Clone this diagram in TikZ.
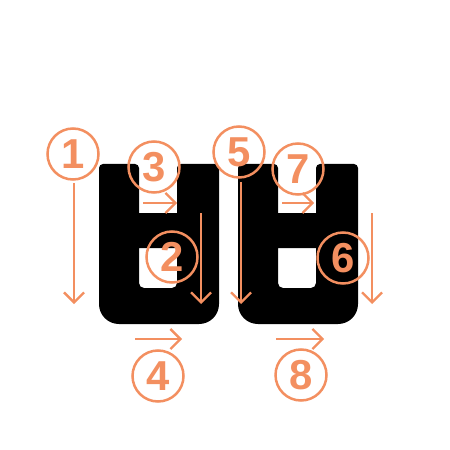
\documentclass[tikz,border=0pt]{standalone}
\usepackage{fontspec}
\setmainfont{Liberation Sans}
\usepackage{xcolor}
\usetikzlibrary{arrows.meta}
\definecolor{strokeorange}{RGB}{243,143,96}

\tikzset{
  num/.style={circle,draw=strokeorange,line width=2.5bp,minimum size=51bp,inner sep=0pt,
    text=strokeorange,font=\fontsize{42}{42}\selectfont\bfseries},
  order/.style={draw=strokeorange,line width=2.3bp,-{Straight Barb[length=10bp,width=20bp,line width=2.3bp]}}
}

\begin{document}
\begin{tikzpicture}[x=1bp,y=-1bp]
\useasboundingbox (0,0) rectangle (450,450);
% the two glyphs
\foreach \gx in {0,139} {
\begin{scope}[shift={(\gx,0)}]
\fill[even odd rule]
  (99,250) [rounded corners=4] -- (99,164) -- (139,164) [sharp corners] -- (139,213) -- (177,213)
  [rounded corners=4] -- (177,164) -- (219,164) [rounded corners=20] -- (219,324) -- (99,324)
  [sharp corners] -- cycle
  (139,248) -- (177,248) [rounded corners=5] -- (177,288) -- (139,288) [sharp corners] -- (139,268)
  -- cycle;
\end{scope}
}
% stroke numbers
\node[num] (n1) at (73,154) {1};
\node[num] (n2) at (172,257) {2};
\node[num] (n3) at (154,167) {3};
\node[num] (n4) at (158,376) {4};
\node[num] (n5) at (239,152) {5};
\node[num] (n6) at (343,258) {6};
\node[num] (n7) at (298,169) {7};
\node[num] (n8) at (301,375) {8};
% stroke directions
\coordinate (s1) at (74,183);  \coordinate (e1) at (74,304);
\coordinate (s2) at (201,213); \coordinate (e2) at (201,304);
\coordinate (s3) at (143,203); \coordinate (e3) at (177,203);
\coordinate (s4) at (135,339); \coordinate (e4) at (182,339);
\coordinate (s5) at (241,182); \coordinate (e5) at (241,304);
\coordinate (s6) at (372,213); \coordinate (e6) at (372,304);
\coordinate (s7) at (282,203); \coordinate (e7) at (314,203);
\coordinate (s8) at (276,339); \coordinate (e8) at (324,339);
\draw[order] (s1) -- (e1);
\draw[order] (s2) -- (e2);
\draw[order] (s3) -- (e3);
\draw[order] (s4) -- (e4);
\draw[order] (s5) -- (e5);
\draw[order] (s6) -- (e6);
\draw[order] (s7) -- (e7);
\draw[order] (s8) -- (e8);
\end{tikzpicture}
\end{document}
